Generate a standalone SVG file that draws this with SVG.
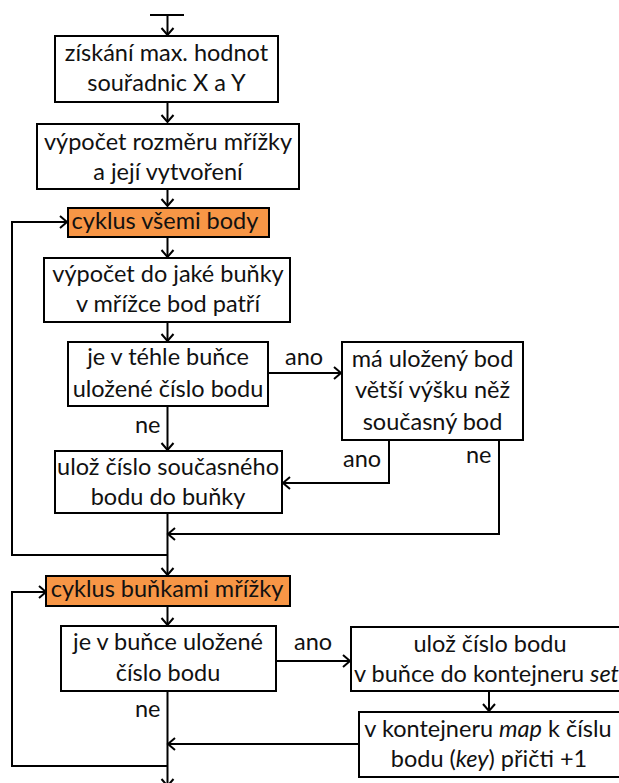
<svg xmlns="http://www.w3.org/2000/svg" width="619" height="783" viewBox="0 0 619 783">
<defs>
<marker id="arr" markerUnits="userSpaceOnUse" markerWidth="20" markerHeight="20" viewBox="-10 -10 20 20" refX="0" refY="0" orient="auto" overflow="visible">
<path d="M-7,-6 L0,0 L-7,6" fill="none" stroke="#000" stroke-width="2"/>
</marker>
<style>
.b{fill:#fff;stroke:#000;stroke-width:2}
.o{fill:#F79646;stroke:#000;stroke-width:2}
.l{fill:none;stroke:#000;stroke-width:2}
text{font-family:Lato,"Liberation Sans",sans-serif;font-size:23.5px;fill:#111;text-anchor:middle}
.s{text-anchor:start}
</style>
</defs>
<rect width="619" height="783" fill="#fff"/>
<g id="connectors">
<path class="l" d="M150,15 H184"/>
<path class="l" d="M167.5,15 V35" marker-end="url(#arr)"/>
<path class="l" d="M167.5,102 V122" marker-end="url(#arr)"/>
<path class="l" d="M167.5,189 V206" marker-end="url(#arr)"/>
<path class="l" d="M167.5,237 V257" marker-end="url(#arr)"/>
<path class="l" d="M167.5,322 V341" marker-end="url(#arr)"/>
<path class="l" d="M268,373 H341" marker-end="url(#arr)"/>
<path class="l" d="M167.5,406 V450" marker-end="url(#arr)"/>
<path class="l" d="M389,440 V483 H283" marker-end="url(#arr)"/>
<path class="l" d="M499,440 V534 H168" marker-end="url(#arr)"/>
<path class="l" d="M167.5,513 V575" marker-end="url(#arr)"/>
<path class="l" d="M167.5,555 H12 V222 H67" marker-end="url(#arr)"/>
<path class="l" d="M167.5,606 V625" marker-end="url(#arr)"/>
<path class="l" d="M276,661 H350" marker-end="url(#arr)"/>
<path class="l" d="M489,691 V711" marker-end="url(#arr)"/>
<path class="l" d="M359,744 H168" marker-end="url(#arr)"/>
<path class="l" d="M167.5,691 V786" marker-end="url(#arr)"/>
<path class="l" d="M167.5,766 H12 V592 H46" marker-end="url(#arr)"/>
<text class="s" x="285" y="365">ano</text>
<text class="s" x="135" y="433">ne</text>
<text class="s" x="343" y="467">ano</text>
<text class="s" x="466" y="463">ne</text>
<text class="s" x="294" y="650">ano</text>
<text class="s" x="135" y="717">ne</text>
</g>
<g id="n1"><rect class="b" x="55" y="36" width="223" height="66"/><text x="166.5" y="61">získání max. hodnot</text><text x="166.5" y="91">souřadnic X a Y</text></g>
<g id="n2"><rect class="b" x="37" y="124" width="262" height="65"/><text x="168" y="150">výpočet rozměru mřížky</text><text x="168" y="180">a její vytvoření</text></g>
<g id="n3"><rect class="o" x="68" y="208" width="201" height="29"/><text x="165" y="229">cyklus všemi body</text></g>
<g id="n4"><rect class="b" x="44" y="258" width="246" height="64"/><text x="168" y="282">výpočet do jaké buňky</text><text x="168" y="312">v mřížce bod patří</text></g>
<g id="n5"><rect class="b" x="68" y="342" width="200" height="64"/><text x="168" y="365">je v téhle buňce</text><text x="168" y="397">uložené číslo bodu</text></g>
<g id="n6"><rect class="b" x="342" y="342" width="181" height="98"/><text x="432.5" y="367">má uložený bod</text><text x="432.5" y="398">větší výšku něž</text><text x="432.5" y="430">současný bod</text></g>
<g id="n7"><rect class="b" x="55" y="451" width="227" height="62"/><text x="168" y="475">ulož číslo současného</text><text x="168" y="505">bodu do buňky</text></g>
<g id="n8"><rect class="o" x="46" y="576" width="244" height="30"/><text x="167" y="597">cyklus buňkami mřížky</text></g>
<g id="n9"><rect class="b" x="61" y="626" width="215" height="65"/><text x="168" y="650">je v buňce uložené</text><text x="168" y="681">číslo bodu</text></g>
<g id="n10"><rect class="b" x="351" y="627" width="280" height="64"/><text x="490" y="652">ulož číslo bodu</text><text class="s" x="354" y="682">v buňce do kontejneru <tspan font-style="italic">set</tspan></text></g>
<g id="n11"><rect class="b" x="359" y="712" width="272" height="65"/><text x="488" y="737">v kontejneru <tspan font-style="italic">map</tspan> k číslu</text><text x="489" y="767">bodu (<tspan font-style="italic">key</tspan>) přičti +1</text></g>
</svg>
